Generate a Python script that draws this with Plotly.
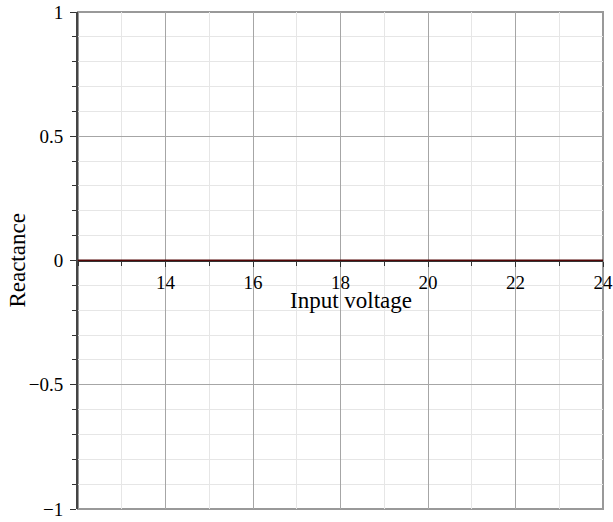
import plotly.graph_objects as go

# Data
voltage = [12, 13, 14, 15, 16, 17, 18, 19, 20, 21, 22, 23, 24]
reactance = [0, 0, 0, 0, 0, 0, 0, 0, 0, 0, 0, 0, 0]

x_tickvals = [14, 16, 18, 20, 22, 24]
x_ticktext = ["14", "16", "18", "20", "22", "24"]
y_tickvals = [-1, -0.5, 0, 0.5, 1]
y_ticktext = ["\u22121", "\u22120.5", "0", "0.5", "1"]

FONT = "Liberation Serif, Times New Roman, serif"
MAJOR_GRID = "#a6a6a6"
MINOR_GRID = "#e6e6e6"

fig = go.Figure()
fig.add_trace(go.Scatter(x=voltage, y=reactance, mode="lines",
                         line=dict(color="#520606", width=2),
                         showlegend=False, hoverinfo="x+y"))

fig.update_layout(
    width=613, height=522,
    margin=dict(l=78, r=10, t=12, b=13, autoexpand=False),
    plot_bgcolor="white", paper_bgcolor="white",
    font=dict(family=FONT, size=19, color="black"),
    xaxis=dict(
        range=[12, 24], anchor="free", position=0.5,
        tickmode="array", tickvals=x_tickvals, ticktext=x_ticktext,
        ticks="outside", ticklen=5, tickcolor="#333", tickwidth=1,
        showgrid=True, gridcolor=MAJOR_GRID, gridwidth=1,
        minor=dict(dtick=1, tick0=0, showgrid=True, gridcolor=MINOR_GRID,
                   ticks="outside", ticklen=4, tickcolor="#333"),
        showline=True, linecolor="#333", linewidth=1,
        zeroline=False, automargin=False, ticklabeloverflow="allow",
        tickfont=dict(family=FONT, size=19),
    ),
    yaxis=dict(
        range=[-1, 1],
        tickmode="array", tickvals=y_tickvals, ticktext=y_ticktext,
        ticks="outside", ticklen=6, tickcolor="#333", tickwidth=1,
        ticklabelstandoff=3,
        showgrid=True, gridcolor=MAJOR_GRID, gridwidth=1,
        minor=dict(dtick=0.1, tick0=0, showgrid=True, gridcolor=MINOR_GRID,
                   ticks="outside", ticklen=4, tickcolor="#333"),
        showline=True, linecolor="#444", linewidth=2,
        zeroline=False, automargin=False, ticklabeloverflow="allow",
        tickfont=dict(family=FONT, size=19),
    ),
    shapes=[dict(type="rect", xref="paper", yref="paper", x0=0, x1=1, y0=0, y1=1,
                 line=dict(color="#999999", width=2), layer="between")],
    annotations=[
        dict(text="Input voltage", xref="x", yref="y", x=18.25, y=0,
             yshift=-40, showarrow=False, font=dict(family=FONT, size=23)),
        dict(text="Reactance", xref="paper", yref="paper", x=-0.116, y=0.5,
             xanchor="center", yanchor="middle", textangle=-90,
             showarrow=False, font=dict(family=FONT, size=23)),
    ],
)

# remove the default 8px page margin so the figure fills the window exactly
fig.write_html("out.html",
               config={"displayModeBar": False},
               post_script="document.body.style.margin='0';document.body.style.overflow='hidden';")
